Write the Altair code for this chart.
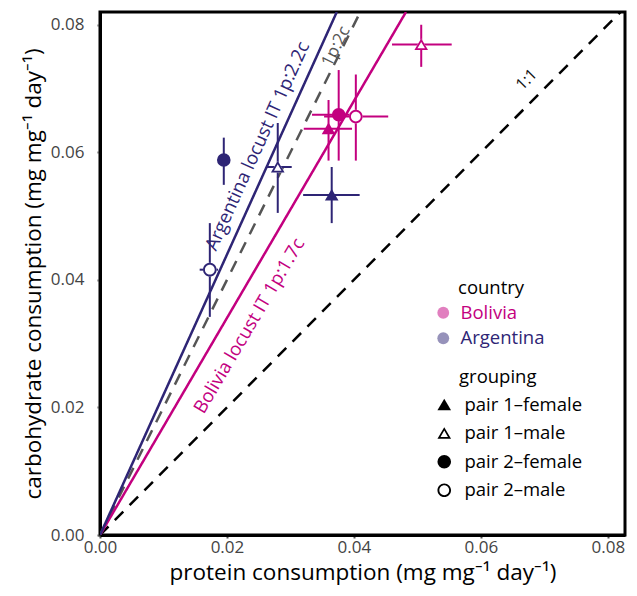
import altair as alt
import pandas as pd

# ---- data ----
country = ["Argentina"] * 4 + ["Bolivia"] * 4
grouping = ["pair 1–female", "pair 1–male", "pair 2–female", "pair 2–male"] * 2
sex = ["female", "male", "female", "male"] * 2
protein = [0.0365, 0.0280, 0.0195, 0.0173, 0.0360, 0.0506, 0.0376, 0.0403]
protein_lo = [0.0320, 0.0263, 0.0192, 0.0157, 0.0321, 0.0460, 0.0334, 0.0353]
protein_hi = [0.0409, 0.0302, 0.0198, 0.0186, 0.0397, 0.0554, 0.0397, 0.0454]
carb = [0.0533, 0.0577, 0.0588, 0.0416, 0.0637, 0.0769, 0.0659, 0.0656]
carb_lo = [0.0489, 0.0505, 0.0549, 0.0342, 0.0587, 0.0734, 0.0587, 0.0587]
carb_hi = [0.0577, 0.0646, 0.0623, 0.0489, 0.0682, 0.0800, 0.0729, 0.0722]

# reference lines (start / end points)
line_name = ["arg", "p2c", "bol", "one"]
line_x0 = [0.0, 0.0, 0.0, 0.0]
line_y0 = [0.0, 0.0, 0.0, 0.0]
line_x1 = [0.0373, 0.0410, 0.0482, 0.0827]
line_y1 = [0.0820, 0.0820, 0.0820, 0.0827]

# line annotations
ann_text = ["Argentina locust IT 1p:2.2c", "1p:2c", "Bolivia locust IT 1p:1.7c", "1:1"]
ann_x = [0.0248, 0.0372, 0.0235, 0.0672]
ann_y = [0.0610, 0.0766, 0.0328, 0.0714]
ann_angle = [294.4, 296.6, 300.5, 315]
ann_color = ["#2e2575", "#555555", "#c3007f", "#111111"]
ann_size = [18.5, 17, 18.5, 16]

country_domain = ["Bolivia", "Argentina"]
country_range = ["#c3007f", "#2e2575"]
group_domain = ["pair 1–female", "pair 1–male", "pair 2–female", "pair 2–male"]

# symbol outlines (unit box -1..1)
TRI = "M 0 -0.9 L 1 0.8 L -1 0.8 Z"
TRI_OPEN = TRI + " M 0 -0.39 L -0.55 0.56 L 0.55 0.56 Z"
CIRC_OPEN = ("M -1 0 A 1 1 0 1 0 1 0 A 1 1 0 1 0 -1 0 Z "
             "M -0.72 0 A 0.72 0.72 0 1 1 0.72 0 A 0.72 0.72 0 1 1 -0.72 0 Z")
shape_range = [TRI, TRI_OPEN, "circle", CIRC_OPEN]

FONT = "Open Sans"
XMAX, YMAX = 0.0827, 0.082
NB = "\u200b" + "\u00a0" * 5
PT = 185

df = pd.DataFrame(dict(country=country, grouping=grouping, sex=sex,
                       protein=protein, protein_lo=protein_lo, protein_hi=protein_hi,
                       carb=carb, carb_lo=carb_lo, carb_hi=carb_hi))
lines = pd.DataFrame(dict(name=line_name, x0=line_x0, y0=line_y0, x1=line_x1, y1=line_y1))
ann = pd.DataFrame(dict(text=ann_text, x=ann_x, y=ann_y, angle=ann_angle))

xsc = alt.Scale(domain=[0, XMAX], nice=False, zero=True)
ysc = alt.Scale(domain=[0, YMAX], nice=False, zero=True)
xaxis = alt.Axis(values=[0, 0.02, 0.04, 0.06, 0.08], format=".2f", labelFlush=False,
                 title="protein consumption (mg mg⁻¹ day⁻¹)")
yaxis = alt.Axis(values=[0, 0.02, 0.04, 0.06, 0.08], format=".2f", labelFlush=False,
                 title="carbohydrate consumption (mg mg⁻¹ day⁻¹)")

color_enc = alt.Color("country:N", scale=alt.Scale(domain=country_domain, range=country_range),
                      legend=alt.Legend(title=NB + "country", orient="none", legendX=334, legendY=267,
                                        symbolOpacity=0.5, symbolType="circle", symbolSize=140,
                                        symbolStrokeWidth=0, rowPadding=6.5, titlePadding=6,
                                        labelOffset=8,
                                        labelColor=alt.ExprRef("datum.value === 'Bolivia' ? '#c3007f' : '#2e2575'")))
shape_enc = alt.Shape("grouping:N", scale=alt.Scale(domain=group_domain, range=shape_range),
                      legend=alt.Legend(title=NB + "grouping", orient="none", legendX=335, legendY=356,
                                        symbolFillColor="black", symbolStrokeWidth=0, symbolOpacity=1,
                                        symbolSize=185, rowPadding=9.5, titlePadding=9, labelOffset=11))

base = alt.Chart(df)

def line_layer(name, color, dash, width):
    return alt.Chart(lines).transform_filter(alt.datum.name == name).mark_rule(
        color=color, strokeDash=dash, strokeWidth=width, clip=True
    ).encode(
        x=alt.X("x0:Q", scale=xsc, axis=xaxis),
        y=alt.Y("y0:Q", scale=ysc, axis=yaxis),
        x2="x1:Q", y2="y1:Q",
    )

ref_lines = [
    line_layer("one", "black", [12, 9], 2.5),
    line_layer("p2c", "#555555", [12, 9], 2.5),
    line_layer("bol", "#c3007f", [1, 0], 2.5),
    line_layer("arg", "#2e2575", [1, 0], 2.5),
]

vbars = base.mark_rule(strokeWidth=2).encode(
    x=alt.X("protein:Q", scale=xsc), y=alt.Y("carb_lo:Q", scale=ysc), y2="carb_hi:Q",
    color=color_enc)
hbars = base.mark_rule(strokeWidth=2).encode(
    y=alt.Y("carb:Q", scale=ysc), x=alt.X("protein_lo:Q", scale=xsc), x2="protein_hi:Q",
    color=color_enc)

# white interiors of the open (male) symbols
under_tri = base.transform_filter(alt.datum.grouping == group_domain[1]).mark_point(
    shape=TRI, filled=True, color="white", size=PT, opacity=1).encode(
    x=alt.X("protein:Q", scale=xsc), y=alt.Y("carb:Q", scale=ysc))
under_circ = base.transform_filter(alt.datum.grouping == group_domain[3]).mark_point(
    shape="circle", filled=True, color="white", size=PT, opacity=1).encode(
    x=alt.X("protein:Q", scale=xsc), y=alt.Y("carb:Q", scale=ysc))

pts = base.mark_point(filled=True, size=PT, opacity=1, strokeWidth=0).encode(
    x=alt.X("protein:Q", scale=xsc), y=alt.Y("carb:Q", scale=ysc),
    color=color_enc, shape=shape_enc)

texts = []
for i in range(len(ann_text)):
    texts.append(alt.Chart(ann).transform_filter(alt.datum.text == ann_text[i]).mark_text(
        color=ann_color[i], fontSize=ann_size[i], font=FONT, align="center", baseline="middle"
    ).encode(x=alt.X("x:Q", scale=xsc), y=alt.Y("y:Q", scale=ysc),
             text="text:N", angle=alt.Angle("angle:Q", scale=None)))

chart = alt.layer(*ref_lines, vbars, hbars, under_tri, under_circ, pts, *texts).properties(
    width=525, height=523,
    autosize=alt.AutoSizeParams(type="none"),
    padding={"left": 92, "top": 4, "right": 4, "bottom": 52},
).configure_view(
    stroke="black", strokeWidth=3
).configure_axis(
    domainColor="black", domainWidth=3, tickColor="#555555", tickSize=3, tickWidth=2,
    labelFont=FONT, labelFontSize=17, labelColor="#444444",
    titleFont=FONT, titleFontSize=22.5, titleFontWeight="normal", titleColor="black",
    grid=False,
).configure_axisX(labelPadding=1, titlePadding=6
).configure_axisY(labelPadding=13, titlePadding=5
).configure_legend(
    titleFont=FONT, titleFontSize=18.5, titleFontWeight="normal", titleColor="black",
    labelFont=FONT, labelFontSize=18.5, labelColor="black",
    symbolBaseFillColor="black",
)

chart.save("out.html", embed_options={"renderer": "svg", "actions": False})
